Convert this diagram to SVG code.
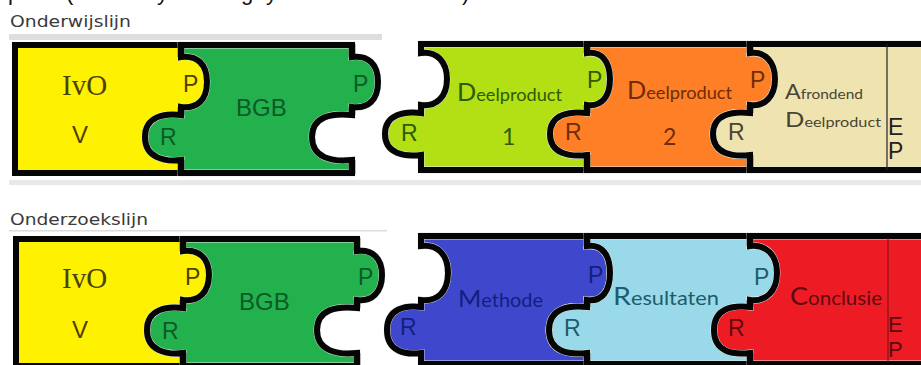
<svg xmlns="http://www.w3.org/2000/svg" width="921" height="365" viewBox="0 0 921 365">
<style>
.edge{fill:none;stroke:#050505;stroke-width:6;stroke-linejoin:miter}
.halo{stroke:#e4ece4;stroke-width:6.8}
.div{stroke:#050505;stroke-width:6.5;fill:none}
.head{font-family:"DejaVu Sans",Verdana,sans-serif;font-size:16px;fill:#3a3a3a}
.sans{font-family:"Liberation Sans",Arial,sans-serif}
.serif{font-family:"Liberation Serif","Times New Roman",serif}
.gill{font-family:Lato,"Liberation Sans",sans-serif}
.tab{font-family:"Liberation Sans",Arial,sans-serif;font-size:23px}
.big{font-size:24px}
.ivo{font-size:29px}
.num{font-size:23px}
</style>
<defs>
<path id="a1" d="M15,45 H181 V57 C197,55 207,64 207,82 C207,100 197,109 181,107 V115 C165,113 145,116 145,137 C145,158 165,162 181,160 V173 H15 Z"/>
<path id="b1" d="M181,45 H352 V57 C368,55 378,64 378,82 C378,100 368,109 352,107 V115 C332,113 312,116 312,137 C312,158 332,162 352,160 V173 H181 V160 C165,162 145,158 145,137 C145,116 165,113 181,115 V107 C197,109 207,100 207,82 C207,64 197,55 181,57 Z"/>
<path id="c1" d="M421,44 H587 V53 C602,51 610,62 610,79 C610,96 602,107 587,105 V113 C570,111 550,114 550,134 C550,154 570,157 587,155 V170 H421 V155 C405,157 385,154 385,134 C385,114 405,111 421,113 V105 C437,107 447,96 447,79 C447,62 437,51 421,53 Z"/>
<path id="d1" d="M587,44 H750 V53 C765,51 775,62 775,79 C775,96 765,107 750,105 V113 C733,111 713,114 713,134 C713,154 733,157 750,155 V170 H587 V155 C570,157 550,154 550,134 C550,114 570,111 587,113 V105 C602,107 610,96 610,79 C610,62 602,51 587,53 Z"/>
<path id="e1" d="M750,44 H926 V170 H750 V155 C733,157 713,154 713,134 C713,114 733,111 750,113 V105 C765,107 775,96 775,79 C775,62 765,51 750,53 Z"/>
<path id="a2" d="M16,239 H183 V251 C199,249 209,258 209,275 C209,292 199,302 183,300 V308 C167,306 147,309 147,330 C147,351 167,355 183,353 V366 H16 Z"/>
<path id="b2" d="M183,239 H357 V251 C372,249 382,258 382,275 C382,292 372,302 357,300 V308 C337,306 317,309 317,330 C317,351 337,355 357,353 V366 H183 V353 C167,355 147,351 147,330 C147,309 167,306 183,308 V300 C199,302 209,292 209,275 C209,258 199,249 183,251 Z"/>
<path id="c2" d="M421,236 H587 V246 C602,244 610,255 610,273 C610,291 602,302 587,300 V307 C569,305 549,308 549,330 C549,352 569,355 587,353 V364 H421 V353 C406,355 387,352 387,330 C387,308 406,305 421,307 V300 C438,302 448,291 448,273 C448,255 438,244 421,246 Z"/>
<path id="d2" d="M587,236 H750 V246 C766,244 777,255 777,273 C777,291 766,302 750,300 V307 C733,305 714,308 714,330 C714,352 733,355 750,353 V364 H587 V353 C569,355 549,352 549,330 C549,308 569,305 587,307 V300 C602,302 610,291 610,273 C610,255 602,244 587,246 Z"/>
<path id="e2" d="M750,236 H926 V364 H750 V353 C733,355 714,352 714,330 C714,308 733,305 750,307 V300 C766,302 777,291 777,273 C777,255 766,244 750,246 Z"/>
</defs>
<rect width="921" height="365" fill="#fff"/>
<text x="8 66 157 241 266 462" y="0" font-family="Liberation Sans,sans-serif" font-size="22" fill="#111">p(ygy)</text>
<g id="heading-onderwijslijn">
<text class="head" x="10" y="27" textLength="121" lengthAdjust="spacingAndGlyphs">Onderwijslijn</text>
<rect x="9" y="34" width="373" height="6" fill="#dedede"/>
<rect x="9" y="180" width="912" height="5" fill="#e8e8e8"/>
</g>
<g id="heading-onderzoekslijn">
<text class="head" x="10" y="225" textLength="138" lengthAdjust="spacingAndGlyphs">Onderzoekslijn</text>
<rect x="9" y="230" width="378" height="1.5" fill="#dcdcdc"/>
</g>
<g id="ivo-1"><use href="#a1" fill="#fff200"/><use href="#a1" class="edge"/>
<text class="serif ivo" x="62" y="95" fill="#4d4100">IvO</text>
<text class="sans big" x="72" y="143" fill="#4d4100">V</text>
<text class="tab" x="183" y="92" fill="#4d4100">P</text></g>
<g id="bgb-1"><use href="#b1" fill="#22b14c" class="halo"/><use href="#b1" class="edge"/>
<text class="sans big" x="236" y="116" fill="#0c5a28">BGB</text>
<text class="tab" x="160" y="145" fill="#0c5a28">R</text>
<text class="tab" x="353" y="92" fill="#0c5a28">P</text></g>
<g id="deelproduct-1"><use href="#c1" fill="#b2e014" class="halo"/><use href="#c1" class="edge"/>
<text class="gill" x="457" y="101" fill="#2f5a06" font-size="18" textLength="105" lengthAdjust="spacingAndGlyphs"><tspan font-size="25">D</tspan>eelproduct</text>
<text class="gill num" x="502" y="145" fill="#2f5a06">1</text>
<text class="tab" x="587" y="88" fill="#2f5a06">P</text>
<text class="tab" x="401" y="141" fill="#2f5a06">R</text></g>
<g id="deelproduct-2"><use href="#d1" fill="#ff7f27" class="halo"/><use href="#d1" class="edge"/>
<text class="gill" x="627" y="99" fill="#6e2c08" font-size="18" textLength="105" lengthAdjust="spacingAndGlyphs"><tspan font-size="25">D</tspan>eelproduct</text>
<text class="gill num" x="663" y="145" fill="#6e2c08">2</text>
<text class="tab" x="565" y="140" fill="#6e2c08">R</text>
<text class="tab" x="750" y="88" fill="#6e2c08">P</text></g>
<g id="afrondend"><use href="#e1" fill="#efe4b0" class="halo"/><use href="#e1" class="edge"/>
<line x1="887" y1="44" x2="887" y2="170" stroke="#222" stroke-width="1.2"/>
<text class="gill" x="785" y="99" fill="#4a4434" font-size="14" textLength="78" lengthAdjust="spacingAndGlyphs"><tspan font-size="21">A</tspan>frondend</text>
<text class="gill" x="785" y="127" fill="#4a4434" font-size="14" textLength="96" lengthAdjust="spacingAndGlyphs"><tspan font-size="22">D</tspan>eelproduct</text>
<text class="tab" x="728" y="140" fill="#4a4434">R</text>
<text class="sans" x="888" y="135" font-size="23" fill="#222">E</text>
<text class="sans" x="888" y="159" font-size="23" fill="#222">P</text></g>
<g id="ivo-2"><use href="#a2" fill="#fff200"/><use href="#a2" class="edge"/>
<text class="serif ivo" x="62" y="288" fill="#4d4100">IvO</text>
<text class="sans big" x="72" y="338" fill="#4d4100">V</text>
<text class="tab" x="185" y="285" fill="#4d4100">P</text></g>
<g id="bgb-2"><use href="#b2" fill="#22b14c" class="halo"/><use href="#b2" class="edge"/>
<text class="sans big" x="239" y="310" fill="#0c5a28">BGB</text>
<text class="tab" x="162" y="339" fill="#0c5a28">R</text>
<text class="tab" x="358" y="285" fill="#0c5a28">P</text></g>
<g id="methode"><use href="#c2" fill="#3f48cc" class="halo"/><use href="#c2" class="edge"/>
<text class="gill" x="458" y="307" fill="#141e80" font-size="19" textLength="85" lengthAdjust="spacingAndGlyphs"><tspan font-size="24">M</tspan>ethode</text>
<text class="tab" x="588" y="283" fill="#141e80">P</text>
<text class="tab" x="400" y="335" fill="#141e80">R</text></g>
<g id="resultaten"><use href="#d2" fill="#99d9ea" class="halo"/><use href="#d2" class="edge"/>
<text class="gill" x="613" y="305" fill="#1e5c68" font-size="19" textLength="106" lengthAdjust="spacingAndGlyphs"><tspan font-size="25">R</tspan>esultaten</text>
<text class="tab" x="564" y="336" fill="#1e5c68">R</text>
<text class="tab" x="754" y="285" fill="#1e5c68">P</text></g>
<g id="conclusie"><use href="#e2" fill="#ed1c24" class="halo"/><use href="#e2" class="edge"/>
<line x1="888" y1="238" x2="888" y2="362" stroke="#8a1018" stroke-width="1.2"/>
<text class="gill" x="790" y="305" fill="#5e0a10" font-size="19" textLength="92" lengthAdjust="spacingAndGlyphs"><tspan font-size="25">C</tspan>onclusie</text>
<text class="tab" x="728" y="336" fill="#5e0a10">R</text>
<text class="sans" x="888" y="332" font-size="22" fill="#5e0a10">E</text>
<text class="sans" x="888" y="357" font-size="22" fill="#5e0a10">P</text></g>
<g id="connectors">
<path class="div" d="M181,44 V57 M181,107 V115 M181,160 V174 M352,44 V57 M352,107 V115 M352,160 V174 M587,43 V53 M587,105 V113 M587,155 V171 M750,43 V53 M750,105 V113 M750,155 V171 M183,238 V251 M183,300 V308 M183,353 V367 M357,238 V251 M357,300 V308 M357,353 V367 M587,235 V246 M587,300 V307 M587,353 V365 M750,235 V246 M750,300 V307 M750,353 V365"/>
</g>
</svg>
